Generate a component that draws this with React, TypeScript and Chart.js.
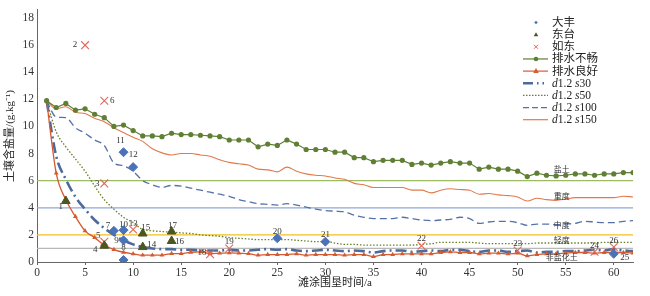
import React, { useEffect, useRef } from 'react';
import { Chart, registerables } from 'chart.js';
Chart.register(...registerables);

// ---------- data ----------
const years = [1,2,3,4,5,6,7,8,9,10,11,12,13,14,15,16,17,18,19,20,21,22,23,24,25,26,27,28,29,30,31,32,33,34,35,36,37,38,39,40,41,42,43,44,45,46,47,48,49,50,51,52,53,54,55,56,57,58,59,60,61,62];

const poorDrainage = [11.9,11.4,11.7,11.2,11.3,10.9,10.65,10.0,10.1,9.7,9.3,9.3,9.25,9.5,9.4,9.4,9.35,9.3,9.25,9.0,9.0,9.0,8.5,8.7,8.6,9.0,8.7,8.3,8.3,8.3,8.1,8.1,7.7,7.7,7.4,7.5,7.5,7.5,7.2,7.3,7.15,7.3,7.4,7.3,7.3,6.85,7.0,6.85,6.85,6.7,6.3,6.55,6.4,6.35,6.4,6.5,6.5,6.4,6.5,6.5,6.6,6.6];

const goodDrainage = [11.9,6.55,4.6,3.35,2.3,1.8,1.25,0.92,0.72,0.6,0.5,0.5,0.5,0.62,0.62,0.72,0.75,0.62,0.65,0.68,0.65,0.62,0.5,0.55,0.55,0.55,0.6,0.5,0.55,0.55,0.55,0.5,0.55,0.55,0.4,0.55,0.55,0.6,0.6,0.6,0.6,0.7,0.75,0.7,0.7,0.6,0.65,0.65,0.6,0.65,0.45,0.55,0.6,0.6,0.65,0.7,0.7,0.65,0.7,0.7,0.7,0.65];

const sim30 = [11.9,7.8,6.1,4.8,3.9,3.1,2.5,2.0,1.6,1.3,1.1,1.0,0.95,0.95,0.9,0.9,0.85,0.85,0.85,0.9,0.85,0.85,0.9,0.95,0.9,0.95,0.85,0.8,0.85,0.9,0.85,0.8,0.85,0.8,0.7,0.8,0.85,0.85,0.75,0.8,0.85,0.8,0.9,0.9,0.8,0.75,0.85,0.85,0.75,0.8,0.85,0.7,0.75,0.75,0.8,0.8,0.85,0.9,0.85,0.95,0.85,0.8];

const sim50 = [11.9,9.6,8.5,7.6,6.7,5.6,4.6,3.9,3.3,2.9,2.4,2.3,2.25,2.2,2.15,2.1,2.0,1.95,1.9,1.8,1.75,1.7,1.65,1.65,1.65,1.65,1.6,1.55,1.5,1.5,1.4,1.3,1.3,1.25,1.25,1.25,1.25,1.25,1.25,1.3,1.35,1.45,1.45,1.45,1.45,1.4,1.35,1.35,1.35,1.35,1.35,1.4,1.4,1.4,1.4,1.4,1.4,1.4,1.45,1.45,1.45,1.45];

const sim100 = [11.9,10.7,10.65,9.9,9.5,9.0,8.6,7.3,7.1,6.7,6.0,5.7,5.5,5.65,5.6,5.45,5.3,5.15,5.0,4.85,4.6,4.45,4.3,4.25,4.2,4.3,4.2,4.05,3.9,3.8,3.75,3.7,3.45,3.3,3.2,3.2,3.2,3.3,3.2,3.1,3.05,3.1,3.15,3.3,3.2,2.85,2.95,3.0,3.0,2.9,2.7,2.8,2.8,2.75,2.8,2.85,3.0,2.95,2.9,2.9,3.0,3.05];

const sim150 = [11.9,11.3,11.45,11.05,10.95,10.6,10.35,9.9,9.55,9.2,8.9,8.35,8.05,7.9,8.0,8.0,7.9,7.8,7.55,7.35,7.25,7.15,6.85,6.8,6.65,7.0,6.7,6.5,6.4,6.35,6.2,6.1,5.8,5.7,5.5,5.5,5.5,5.5,5.3,5.3,5.1,5.3,5.4,5.35,5.3,5.0,5.05,4.95,4.9,4.8,4.5,4.7,4.6,4.55,4.65,4.75,4.75,4.75,4.75,4.75,4.85,4.8];

const dafengX = [8, 9, 9, 9, 9, 10, 25, 30, 60];
const dafengY = [2.3, 2.35, 1.6, 0.15, 8.1, 7.0, 1.75, 1.5, 0.6];
const dafengLabels = ['7', '10', '9', '8', '11', '12', '20', '21', '25'];

const dongtaiX = [3, 7, 11, 11, 14, 14];
const dongtaiY = [4.5, 1.2, 2.1, 1.1, 2.25, 1.55];
const dongtaiLabels = ['1', '4', '15', '14', '17', '16'];

const rudongX = [5, 7, 7, 7, 10, 18, 20, 40, 50, 58, 60];
const rudongY = [16, 11.9, 5.8, 1.5, 2.4, 0.58, 1.0, 1.2, 0.85, 0.75, 1.1];
const rudongLabels = ['2', '6', '3', '5', '13', '18', '19', '22', '23', '24', '26'];

const thresholdValues = [6, 4, 2, 1];
const gradeNames = ['盐土', '重度', '中度', '轻度', '非盐化土'];
const gradeLabelY = [6.9, 4.9, 2.75, 1.6, 0.38];
const gradeLabelX = 54.6;

// ---------- styles ----------
const C = {
  poor: '#5f7f34',
  good: '#d65a30',
  s30: '#4d6a9c',
  s50: '#6b7f27',
  s100: '#5572a8',
  s150: '#e07a4c',
  dafeng: '#4a72b8',
  dongtai: '#4b5620',
  rudong: '#e2675a',
};
const thresholdColors = ['#9cbb62', '#8ea8d6', '#f0c020', '#b8b8b8'];
const SERIF = '"Liberation Serif", "Noto Sans CJK SC", serif';
const CJK = '"Noto Sans CJK SC", "Liberation Serif", sans-serif';

const labelOffsets: Record<string, [number, number]> = {
  '1': [-5, 6], '2': [-10, 0], '3': [-7, 0], '4': [-9, 4], '5': [-6, -6], '6': [8, 0],
  '7': [-6, -5], '8': [0, -12], '9': [-7, 0], '10': [0, -6], '11': [-3, -12], '12': [0, -12],
  '13': [0, -6], '14': [9, -2], '15': [3, -6], '16': [8, 1], '17': [1, -6], '18': [-8, -1],
  '19': [0, -7], '20': [0, -7], '21': [0, -7], '22': [0, -7], '23': [0, -7], '24': [0, -6],
  '25': [11, 4], '26': [0, -6],
};

const toPts = (xs: number[], ys: number[]) => xs.map((x, i) => ({ x, y: ys[i] }));

function drawMarker(ctx: CanvasRenderingContext2D, kind: string, x: number, y: number, r: number, color: string) {
  ctx.save();
  ctx.fillStyle = color;
  ctx.strokeStyle = color;
  ctx.lineWidth = 1;
  ctx.setLineDash([]);
  ctx.beginPath();
  if (kind === 'diamond') {
    ctx.moveTo(x, y - r); ctx.lineTo(x + r, y); ctx.lineTo(x, y + r); ctx.lineTo(x - r, y); ctx.closePath(); ctx.fill();
  } else if (kind === 'triangle') {
    ctx.moveTo(x, y - r); ctx.lineTo(x + r * 0.9, y + r * 0.6); ctx.lineTo(x - r * 0.9, y + r * 0.6); ctx.closePath(); ctx.fill();
  } else if (kind === 'cross') {
    ctx.moveTo(x - r, y - r); ctx.lineTo(x + r, y + r); ctx.moveTo(x + r, y - r); ctx.lineTo(x - r, y + r); ctx.stroke();
  } else if (kind === 'circle') {
    ctx.arc(x, y, r, 0, Math.PI * 2); ctx.fill();
  }
  ctx.restore();
}

type LegendItem = {
  text: { t: string; i: boolean }[];
  marker?: string;
  color: string;
  line?: { dash: number[]; width: number };
  mr?: number;
};

const legendItems: LegendItem[] = [
  { text: [{ t: '大丰', i: false }], marker: 'diamond', color: C.dafeng, mr: 1.8 },
  { text: [{ t: '东台', i: false }], marker: 'triangle', color: C.dongtai, mr: 2.5 },
  { text: [{ t: '如东', i: false }], marker: 'cross', color: C.rudong, mr: 2 },
  { text: [{ t: '排水不畅', i: false }], marker: 'circle', color: C.poor, line: { dash: [], width: 1.2 }, mr: 2.3 },
  { text: [{ t: '排水良好', i: false }], marker: 'triangle', color: C.good, line: { dash: [], width: 1.2 }, mr: 3 },
  { text: [{ t: 'd', i: true }, { t: '1.2 ', i: false }, { t: 's', i: true }, { t: '30', i: false }], color: C.s30, line: { dash: [10, 4, 1.5, 4, 1.5, 4], width: 2.5 } },
  { text: [{ t: 'd', i: true }, { t: '1.2 ', i: false }, { t: 's', i: true }, { t: '50', i: false }], color: C.s50, line: { dash: [1.5, 1.5], width: 1.3 } },
  { text: [{ t: 'd', i: true }, { t: '1.2 ', i: false }, { t: 's', i: true }, { t: '100', i: false }], color: C.s100, line: { dash: [6, 3], width: 1.3 } },
  { text: [{ t: 'd', i: true }, { t: '1.2 ', i: false }, { t: 's', i: true }, { t: '150', i: false }], color: C.s150, line: { dash: [], width: 1.2 } },
];

const overlayPlugin = {
  id: 'overlay',
  afterDatasetsDraw(chart: any) {
    const { ctx, scales } = chart;
    const xs = scales.x, ys = scales.y;
    ctx.save();
    // grade labels
    ctx.fillStyle = '#333';
    ctx.textAlign = 'center';
    ctx.textBaseline = 'middle';
    ctx.font = `8px ${CJK}`;
    gradeNames.forEach((n, i) => {
      ctx.fillText(n, xs.getPixelForValue(gradeLabelX), ys.getPixelForValue(gradeLabelY[i]));
    });
    // point number labels
    ctx.font = `9px ${SERIF}`;
    const groups = [
      { xv: dafengX, yv: dafengY, lb: dafengLabels },
      { xv: dongtaiX, yv: dongtaiY, lb: dongtaiLabels },
      { xv: rudongX, yv: rudongY, lb: rudongLabels },
    ];
    groups.forEach((g) => {
      g.xv.forEach((xv, i) => {
        const off = labelOffsets[g.lb[i]] || [0, -7];
        ctx.fillText(g.lb[i], xs.getPixelForValue(xv) + off[0], ys.getPixelForValue(g.yv[i]) + off[1]);
      });
    });
    // legend
    const lx0 = 523, lx1 = 548, mx = 536, tx = 552;
    legendItems.forEach((it, k) => {
      const yy = 22.5 + k * 12.15;
      if (it.line) {
        ctx.save();
        ctx.strokeStyle = it.color;
        ctx.lineWidth = it.line.width;
        ctx.setLineDash(it.line.dash);
        ctx.beginPath();
        ctx.moveTo(lx0, yy);
        ctx.lineTo(lx1, yy);
        ctx.stroke();
        ctx.restore();
      }
      if (it.marker) drawMarker(ctx, it.marker, mx, yy, it.mr || 2, it.color);
      let cx = tx;
      ctx.textAlign = 'left';
      ctx.fillStyle = '#222';
      it.text.forEach((p) => {
        ctx.font = `${p.i ? 'italic ' : ''}11.5px ${SERIF}`;
        ctx.fillText(p.t, cx, yy + 0.5);
        cx += ctx.measureText(p.t).width;
      });
    });
    ctx.restore();
  },
};

export default function App() {
  const ref = useRef<HTMLCanvasElement | null>(null);
  useEffect(() => {
    document.body.style.margin = '0';
    const lineBase = { showLine: true, pointRadius: 0, cubicInterpolationMode: 'monotone' as const, fill: false };
    const datasets: any[] = [
      {
        label: '大丰', data: toPts(dafengX, dafengY), pointStyle: 'rectRot', pointRadius: 4.5,
        backgroundColor: C.dafeng, borderColor: C.dafeng, borderWidth: 1,
      },
      {
        label: '东台', data: toPts(dongtaiX, dongtaiY), pointStyle: 'triangle', pointRadius: 5,
        backgroundColor: C.dongtai, borderColor: C.dongtai, borderWidth: 1,
      },
      {
        label: '如东', data: toPts(rudongX, rudongY), pointStyle: 'crossRot', pointRadius: 5.5,
        backgroundColor: C.rudong, borderColor: C.rudong, borderWidth: 1.1,
      },
      {
        ...lineBase, label: '排水不畅', data: toPts(years, poorDrainage), cubicInterpolationMode: 'default', tension: 0,
        pointRadius: 2.6, pointStyle: 'circle', backgroundColor: C.poor, borderColor: C.poor, borderWidth: 1.2,
        pointBorderWidth: 0,
      },
      {
        ...lineBase, label: '排水良好', data: toPts(years, goodDrainage),
        pointRadius: 2.8, pointStyle: 'triangle', backgroundColor: C.good, borderColor: C.good, borderWidth: 1.3,
        pointBorderWidth: 0,
      },
      { ...lineBase, label: 'd1.2 s30', data: toPts(years, sim30), borderColor: C.s30, borderWidth: 2.6, borderDash: [11, 4, 2, 4] },
      { ...lineBase, label: 'd1.2 s50', data: toPts(years, sim50), borderColor: C.s50, borderWidth: 1.3, borderDash: [1.5, 1.8] },
      { ...lineBase, label: 'd1.2 s100', data: toPts(years, sim100), borderColor: C.s100, borderWidth: 1.3, borderDash: [7, 4] },
      { ...lineBase, label: 'd1.2 s150', data: toPts(years, sim150), borderColor: C.s150, borderWidth: 1.1 },
      ...thresholdValues.map((v, i) => ({
        showLine: true, pointRadius: 0, label: 'thr' + v,
        data: [{ x: 0, y: v }, { x: years[years.length - 1], y: v }],
        borderColor: thresholdColors[i], borderWidth: 1.2,
      })),
    ];
    const chart = new Chart(ref.current as HTMLCanvasElement, {
      type: 'scatter',
      data: { datasets },
      options: {
        responsive: false,
        animation: false,
        devicePixelRatio: 1,
        layout: { padding: { top: 5, right: 17, left: 0, bottom: 0 } },
        plugins: { legend: { display: false }, tooltip: { enabled: false } },
        scales: {
          x: {
            type: 'linear', min: 0, max: 62,
            afterFit: (s: any) => { s.height = 34; },
            ticks: { stepSize: 5, includeBounds: false, color: '#333', font: { family: SERIF, size: 11.5 }, padding: 1, maxRotation: 0 },
            grid: { display: true, drawOnChartArea: false, drawTicks: true, tickLength: 3, color: '#666' },
            border: { display: true, color: '#666', width: 1 },
            title: { display: true, text: '滩涂围垦时间/a', color: '#222', font: { family: SERIF, size: 11 }, padding: { top: 0, bottom: 6 } },
          },
          y: {
            type: 'linear', min: 0, max: 18.6,
            afterFit: (s: any) => { s.width = 37; },
            ticks: { stepSize: 2, includeBounds: false, color: '#333', font: { family: SERIF, size: 11.5 }, padding: 3 },
            grid: { display: true, drawOnChartArea: false, drawTicks: false, color: '#666' },
            border: { display: true, color: '#666', width: 1 },
            title: { display: true, text: '土壤含盐量/(g.kg⁻¹)', color: '#222', font: { family: SERIF, size: 11 }, padding: { top: 4, bottom: 0 } },
          },
        },
      },
      plugins: [overlayPlugin],
    } as any);
    return () => chart.destroy();
  }, []);
  return (
    <div style={{ width: 650, height: 296 }}>
      <canvas ref={ref} width={650} height={296} style={{ display: 'block' }} />
    </div>
  );
}
